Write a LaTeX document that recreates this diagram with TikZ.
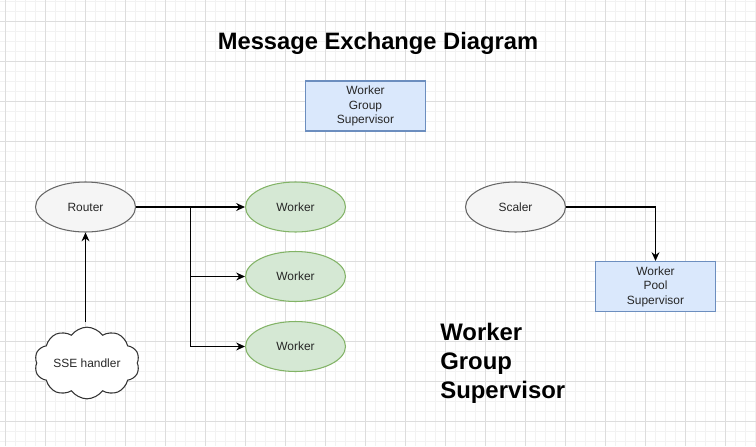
\documentclass[tikz,border=0pt]{standalone}
\usepackage{fontspec}
\setmainfont{Liberation Sans}
\usepackage{xcolor}
\usepackage{tikz}
\usetikzlibrary{shapes.geometric,shapes.symbols,arrows.meta}

\definecolor{gridminor}{HTML}{F2F2F2}
\definecolor{gridmajor}{HTML}{DDDDDD}
\definecolor{bluefill}{HTML}{DAE8FC}
\definecolor{bluedraw}{HTML}{6C8EBF}
\definecolor{greenfill}{HTML}{D5E8D4}
\definecolor{greendraw}{HTML}{82B366}
\definecolor{greyfill}{HTML}{F5F5F5}
\definecolor{greydraw}{HTML}{666666}

\tikzset{
  >={Stealth[length=5pt,width=4.5pt]},
  txt/.style={font=\fontsize{6.8pt}{8.25pt}\selectfont, text=black!85},
  supbox/.style={txt, rectangle, draw=bluedraw, fill=bluefill, line width=0.6pt,
    minimum width=2.4cm, minimum height=1cm, align=center, inner sep=1pt},
  workerell/.style={txt, ellipse, draw=greendraw, fill=greenfill, line width=0.6pt,
    minimum width=2cm, minimum height=1cm, inner sep=0pt},
  greyell/.style={txt, ellipse, draw=greydraw, fill=greyfill, line width=0.6pt,
    minimum width=2cm, minimum height=1cm, inner sep=0pt},
  link/.style={->, line width=0.7pt, black}
}

\begin{document}
\begin{tikzpicture}[x=0.02cm,y=-0.02cm]
\useasboundingbox (0,0) rectangle (756,446);
% background grid
\fill[white] (0,0) rectangle (756,446);
\foreach \gx in {5,15,...,755} \draw[gridminor,line width=0.5pt] (\gx,0) -- (\gx,446);
\foreach \gy in {1.7,11.7,...,446} \draw[gridminor,line width=0.5pt] (0,\gy) -- (756,\gy);
\foreach \gx in {5,45,...,755} \draw[gridmajor,line width=0.5pt] (\gx,0) -- (\gx,446);
\foreach \gy in {21.7,61.7,...,446} \draw[gridmajor,line width=0.5pt] (0,\gy) -- (756,\gy);

\node[anchor=base, font=\fontsize{13.5pt}{16pt}\selectfont\bfseries] (title) at (378,50) {Message Exchange Diagram};
\node[supbox] (wgs) at (365.5,106) {Worker\\Group\\Supervisor};

\node[greyell] (router) at (85.5,207) {Router};
\node[workerell] (workerA) at (295.5,207) {Worker};
\node[workerell] (workerB) at (295.5,276.5) {Worker};
\node[workerell] (workerC) at (295.5,346.5) {Worker};
\node[greyell] (scaler) at (515.5,207) {Scaler};
\node[supbox] (wps) at (655.5,286.5) {Worker\\Pool\\Supervisor};

\node[txt, cloud, cloud puffs=10, cloud puff arc=110, aspect=1.6, draw=black!80, fill=white,
  line width=0.6pt, minimum width=2.1cm, minimum height=1.3cm, inner sep=0pt] (sse) at (87,363) {SSE handler};

\node[anchor=north west, inner sep=0pt, align=left,
  font=\fontsize{13.6pt}{16.5pt}\selectfont\bfseries] (legend) at (440,323) {Worker\\Group\\Supervisor};

\coordinate (split) at (190.3,207);
\coordinate (ssetop) at (85.5,322);
\draw[link] (router) -- (workerA);
\draw[link] (split) |- (workerB);
\draw[link] (split) |- (workerC);
\draw[link] (ssetop) -- (router.south);
\draw[link] (scaler) -| (wps.north);
\end{tikzpicture}
\end{document}
